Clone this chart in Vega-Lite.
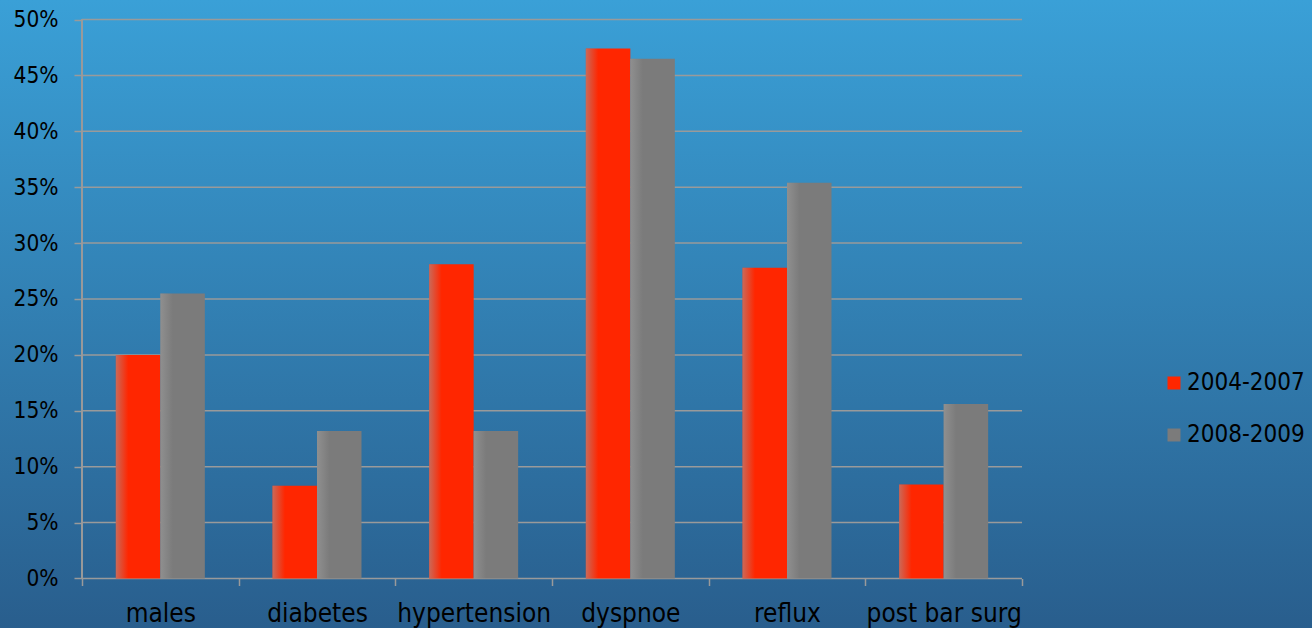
{
  "$schema": "https://vega.github.io/schema/vega-lite/v6.json",
  "width": 1312,
  "height": 628,
  "autosize": {"type": "none"},
  "padding": 0,
  "background": "#3280b5",
  "config": {
    "view": {"stroke": null, "fill": {"gradient": "linear", "x1": 0, "y1": 0, "x2": 0, "y2": 1, "stops": [{"offset": 0, "color": "#3aa0d7"}, {"offset": 1, "color": "#295e8d"}]}},
    "font": "DejaVu Sans Condensed"
  },
  "datasets": {
    "bars": [
      {"category": "males", "series": "2004-2007", "value": 0.200},
      {"category": "males", "series": "2008-2009", "value": 0.255},
      {"category": "diabetes", "series": "2004-2007", "value": 0.083},
      {"category": "diabetes", "series": "2008-2009", "value": 0.132},
      {"category": "hypertension", "series": "2004-2007", "value": 0.281},
      {"category": "hypertension", "series": "2008-2009", "value": 0.132},
      {"category": "dyspnoe", "series": "2004-2007", "value": 0.474},
      {"category": "dyspnoe", "series": "2008-2009", "value": 0.465},
      {"category": "reflux", "series": "2004-2007", "value": 0.278},
      {"category": "reflux", "series": "2008-2009", "value": 0.354},
      {"category": "post bar surg", "series": "2004-2007", "value": 0.084},
      {"category": "post bar surg", "series": "2008-2009", "value": 0.156}
    ],
    "grid": [{"v": 0}, {"v": 0.05}, {"v": 0.1}, {"v": 0.15}, {"v": 0.2}, {"v": 0.25}, {"v": 0.3}, {"v": 0.35}, {"v": 0.4}, {"v": 0.45}, {"v": 0.5}]
  },
  "layer": [
    {
      "data": {"name": "grid"},
      "mark": {"type": "rule", "color": "#9a9a9a", "strokeWidth": 1.5},
      "encoding": {
        "y": {"field": "v", "type": "quantitative", "title": null},
        "x": {"datum": "males", "type": "nominal", "bandPosition": 0, "title": null},
        "x2": {"datum": "post bar surg", "bandPosition": 1}
      }
    },
    {
      "data": {"name": "grid"},
      "mark": {"type": "rule", "color": "#9a9a9a", "strokeWidth": 1.5},
      "encoding": {
        "y": {"datum": 0, "type": "quantitative", "title": null},
        "y2": {"datum": 0.5},
        "x": {"datum": "males", "type": "nominal", "bandPosition": 0, "title": null}
      }
    },
    {
      "data": {"name": "bars"},
      "mark": {"type": "bar"},
      "encoding": {
        "x": {
          "field": "category", "type": "nominal", "sort": null, "title": null,
          "scale": {"type": "band", "domain": ["males", "diabetes", "hypertension", "dyspnoe", "reflux", "post bar surg"], "range": [82, 1022], "paddingInner": 0, "paddingOuter": 0, "round": false},
          "axis": {"orient": "bottom", "offset": -49.5, "domain": false, "tickBand": "extent", "tickSize": 7, "tickColor": "#9a9a9a", "tickWidth": 1.5, "labelFontSize": 26, "labelColor": "#000000", "labelPadding": 28, "labelAngle": 0, "labelAlign": "center", "grid": false, "title": null}
        },
        "xOffset": {
          "field": "series", "type": "nominal",
          "scale": {"domain": ["2004-2007", "2008-2009"], "paddingInner": 0, "paddingOuter": 0.7603}
        },
        "y": {
          "field": "value", "type": "quantitative", "title": null,
          "scale": {"domain": [-0.044276, 0.517442], "nice": false, "zero": false},
          "axis": {"orient": "left", "offset": -82, "domain": false, "values": [0, 0.05, 0.1, 0.15, 0.2, 0.25, 0.3, 0.35, 0.4, 0.45, 0.5], "format": ".0%", "tickSize": 8, "tickColor": "#9a9a9a", "tickWidth": 1.5, "labelFontSize": 22.5, "labelColor": "#000000", "labelPadding": 16, "grid": false, "title": null}
        },
        "y2": {"datum": 0},
        "color": {
          "field": "series", "type": "nominal", "title": null,
          "scale": {"domain": ["2004-2007", "2008-2009"], "range": ["#ff2600", "#7b7b7b"]},
          "legend": {"orient": "none", "legendX": 1162, "legendY": 371, "padding": 0, "symbolType": "square", "symbolSize": 169, "symbolStrokeWidth": 0, "labelFontSize": 24, "labelColor": "#000000", "labelOffset": 1, "labelLimit": 200, "rowPadding": 28}
        }
      }
    },
    {
      "data": {"name": "bars"},
      "mark": {"type": "bar", "fill": {"gradient": "linear", "x1": 0, "y1": 0, "x2": 1, "y2": 0, "stops": [{"offset": 0, "color": "rgba(160,160,160,0.55)"}, {"offset": 0.28, "color": "rgba(160,160,160,0)"}]}},
      "encoding": {
        "x": {"field": "category", "type": "nominal", "sort": null, "title": null},
        "xOffset": {"field": "series", "type": "nominal"},
        "y": {"field": "value", "type": "quantitative", "title": null},
        "y2": {"datum": 0}
      }
    }
  ]
}
